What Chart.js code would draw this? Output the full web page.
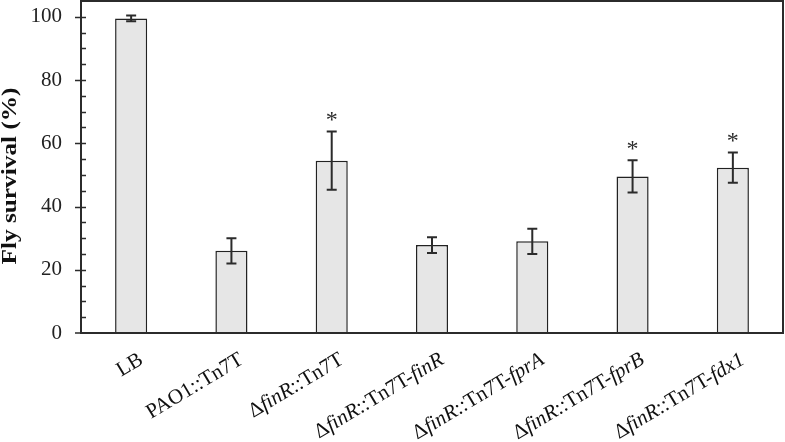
<!DOCTYPE html>
<html>
<head>
<meta charset="utf-8">
<script src="https://cdn.jsdelivr.net/npm/chart.js@4.4.1/dist/chart.umd.min.js"></script>
<style>
  html, body { margin: 0; padding: 0; background: #fff; }
  #wrap { width: 785px; height: 442px; }
</style>
</head>
<body>
<div id="wrap"><canvas id="chart" width="785" height="442"></canvas></div>
<script>
// underscores mark the italic parts of a label
const categories = [
  "LB",
  "PAO1::Tn7T",
  "Δ_finR_::Tn7T",
  "Δ_finR_::Tn7T-_finR_",
  "Δ_finR_::Tn7T-_fprA_",
  "Δ_finR_::Tn7T-_fprB_",
  "Δ_finR_::Tn7T-_fdx1_"
];
const survival = [99.5, 26.0, 54.5, 27.8, 29.0, 49.5, 52.3];
const errors = [0.9, 4.0, 9.2, 2.5, 4.0, 5.1, 4.8];
const significant = [false, false, true, false, false, true, true];
const yTicks = [0, 20, 40, 60, 80, 100];
const yMax = 105;
const minorStep = 5;
const yTitle = "Fly survival (%)";

const ink = "#2b2b2b";
const serif = "'Liberation Serif', 'Times New Roman', serif";

function segments(label) {
  return label.split("_").map((text, i) => ({ text, italic: i % 2 === 1 }));
}

const decorations = {
  id: "decorations",
  afterDatasetsDraw(chart) {
    const { ctx, chartArea: a, scales: { x, y } } = chart;
    ctx.save();

    // error bars and significance marks
    ctx.strokeStyle = ink;
    ctx.lineWidth = 2;
    survival.forEach((v, i) => {
      const cx = x.getPixelForValue(i);
      const top = y.getPixelForValue(v + errors[i]);
      const bot = y.getPixelForValue(v - errors[i]);
      ctx.beginPath();
      ctx.moveTo(cx, top); ctx.lineTo(cx, bot);
      ctx.moveTo(cx - 5, top); ctx.lineTo(cx + 5, top);
      ctx.moveTo(cx - 5, bot); ctx.lineTo(cx + 5, bot);
      ctx.stroke();
      if (significant[i]) {
        ctx.font = "24px " + serif;
        ctx.fillStyle = ink;
        ctx.textAlign = "center";
        ctx.textBaseline = "alphabetic";
        const m = ctx.measureText("*");
        const mid = (m.actualBoundingBoxAscent - m.actualBoundingBoxDescent) / 2;
        ctx.fillText("*", cx, top - 15 + mid);
      }
    });

    // frame
    ctx.lineWidth = 2;
    ctx.strokeStyle = ink;
    ctx.strokeRect(a.left, a.top, a.right - a.left, a.bottom - a.top);

    // y ticks: majors cross the axis, minors point inward
    ctx.lineWidth = 1.5;
    ctx.beginPath();
    for (let v = minorStep; v < yMax; v += minorStep) {
      const py = Math.round(y.getPixelForValue(v)) + 0.5;
      const major = yTicks.includes(v);
      ctx.moveTo(a.left - (major ? 6 : 0), py);
      ctx.lineTo(a.left + 5, py);
    }
    ctx.moveTo(a.left - 6, y.getPixelForValue(0));
    ctx.lineTo(a.left, y.getPixelForValue(0));
    ctx.stroke();

    // rotated category labels with italic parts
    ctx.fillStyle = "#111";
    ctx.textAlign = "left";
    ctx.textBaseline = "alphabetic";
    categories.forEach((label, i) => {
      const parts = segments(label);
      const fontOf = p => (p.italic ? "italic " : "") + "21px " + serif;
      let total = 0;
      parts.forEach(p => { ctx.font = fontOf(p); total += ctx.measureText(p.text).width; });
      ctx.save();
      ctx.translate(x.getPixelForValue(i) + 13, a.bottom + 30);
      ctx.rotate(-31 * Math.PI / 180);
      let px = -total;
      parts.forEach(p => {
        ctx.font = fontOf(p);
        ctx.fillText(p.text, px, 0);
        px += ctx.measureText(p.text).width;
      });
      ctx.restore();
    });

    // y axis title
    ctx.save();
    ctx.translate(16, 176);
    ctx.rotate(-Math.PI / 2);
    ctx.scale(1.15, 1);
    ctx.font = "bold 22px " + serif;
    ctx.fillStyle = "#111";
    ctx.textAlign = "center";
    ctx.textBaseline = "alphabetic";
    ctx.fillText(yTitle, 0, 0);
    ctx.restore();

    ctx.restore();
  }
};

new Chart(document.getElementById("chart"), {
  type: "bar",
  data: {
    labels: categories.map(c => c.replace(/_/g, "")),
    datasets: [{
      data: survival,
      backgroundColor: "#e6e6e6",
      borderColor: "#222",
      borderWidth: 1.5,
      barPercentage: 0.32,
      categoryPercentage: 1.0
    }]
  },
  options: {
    responsive: false,
    animation: false,
    layout: { autoPadding: false, padding: { top: 1, right: 2, left: 0, bottom: 0 } },
    plugins: { legend: { display: false }, tooltip: { enabled: false } },
    scales: {
      x: {
        grid: { display: false },
        border: { display: false },
        ticks: { display: false },
        afterFit(scale) { scale.height = 109; }
      },
      y: {
        min: 0,
        max: yMax,
        grid: { display: false, drawTicks: false },
        border: { display: false },
        afterBuildTicks(scale) {
          scale.ticks = yTicks.map(v => ({ value: v }));
        },
        ticks: {
          padding: 19,
          color: "#222",
          font: { family: serif, size: 21 }
        },
        afterFit(scale) {
          scale.width = 81;
          scale.paddingTop = 0;
          scale.paddingBottom = 0;
        }
      }
    }
  },
  plugins: [decorations]
});
</script>
</body>
</html>
